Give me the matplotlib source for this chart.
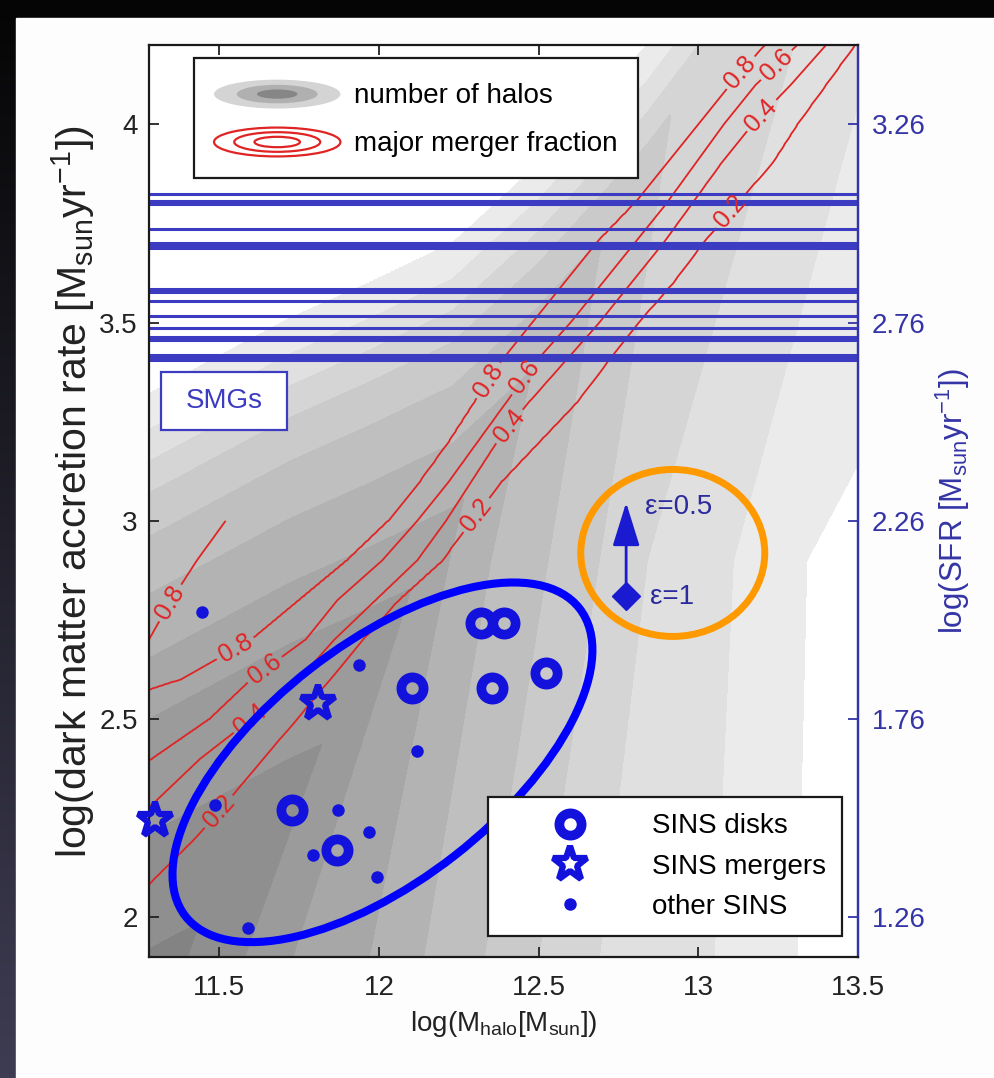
import numpy as np
import matplotlib
matplotlib.use("Agg")
import matplotlib.pyplot as plt
import matplotlib.transforms as mtransforms
from matplotlib.patches import Ellipse, Rectangle, Patch
from matplotlib.lines import Line2D
from matplotlib.legend_handler import HandlerBase
from matplotlib.colors import LinearSegmentedColormap

plt.rcParams["font.family"] = ["Liberation Sans", "DejaVu Sans"]
plt.rcParams["mathtext.fontset"] = "custom"
plt.rcParams["mathtext.rm"] = "Liberation Sans"
plt.rcParams["mathtext.it"] = "Liberation Sans:italic"
plt.rcParams["mathtext.bf"] = "Liberation Sans:bold"

# ---------------- data ----------------
x_ticks = [11.5, 12, 12.5, 13, 13.5]
y_ticks = [2, 2.5, 3, 3.5, 4]
sfr_ticks = [1.26, 1.76, 2.26, 2.76, 3.26]
sfr_offset = 0.74  # log SFR = log Mdot - 0.74

# SINS galaxies (log Mhalo, log dark matter accretion rate)
disk_mhalo = [12.319, 12.391, 12.104, 12.354, 12.522, 11.727, 11.868]
disk_acc = [2.742, 2.742, 2.578, 2.578, 2.616, 2.270, 2.169]
merger_mhalo = [11.808, 11.300]
merger_acc = [2.540, 2.245]
other_mhalo = [11.447, 11.939, 12.120, 11.488, 11.871, 11.970, 11.793, 11.995, 11.590]
other_acc = [2.770, 2.636, 2.419, 2.283, 2.270, 2.215, 2.157, 2.101, 1.972]

# SMGs (horizontal lines, log accretion rate)
smg_acc = [3.824, 3.806, 3.798, 3.737, 3.701, 3.694, 3.688, 3.585, 3.577,
           3.555, 3.516, 3.487, 3.463, 3.455, 3.419, 3.411, 3.405]

# efficiency arrow
eps_mhalo = 12.774
eps1_acc = 2.811
eps05_acc = 3.053

# major merger fraction: x position of each contour level along rows of accretion rate
mf_rows = [1.9, 2.0, 2.1, 2.2, 2.3, 2.4, 2.5, 2.6, 2.7, 2.8, 2.9, 3.0,
           3.1, 3.2, 3.3, 3.4, 3.5, 3.6, 3.7, 3.8, 3.9, 4.0, 4.1, 4.2]
mf_x08 = [10.4, 10.5, 10.6, 10.7, 10.8, 10.9, 11.0, 11.38, 11.60, 11.75, 11.90, 12.03,
          12.13, 12.22, 12.30, 12.38, 12.48, 12.58, 12.68, 12.80, 12.90, 13.00, 13.10, 13.21]
mf_x06 = [10.6, 10.7, 10.8, 10.95, 11.12, 11.29, 11.47, 11.60, 11.77, 11.87, 12.01, 12.12,
          12.22, 12.31, 12.40, 12.49, 12.60, 12.70, 12.80, 12.90, 12.99, 13.08, 13.18, 13.31]
mf_x04 = [10.85, 10.95, 11.05, 11.18, 11.31, 11.44, 11.60, 11.75, 11.86, 11.99, 12.12, 12.21,
          12.29, 12.37, 12.47, 12.58, 12.69, 12.79, 12.89, 12.98, 13.07, 13.17, 13.29, 13.40]
mf_x02 = [11.05, 11.18, 11.30, 11.425, 11.534, 11.637, 11.743, 11.846, 11.949, 12.061, 12.198, 12.288,
          12.385, 12.503, 12.621, 12.715, 12.812, 12.921, 13.014, 13.12, 13.23, 13.31, 13.40, 13.49]
# second (upper-left) 0.8 crossing, only where it is seen
ul_rows = [2.6, 2.7, 2.8, 2.9, 3.0]
mf_x08_ul = [11.18, 11.28, 11.35, 11.43, 11.52]
mf_levels = [0.2, 0.4, 0.6, 0.8]

# number of halos: shading-band boundaries read at acc = 1.9, 2.9 and 4.2
halo_ref_acc = [1.9, 2.9, 4.2]
halo_bound_bottom = [11.40, 11.58, 11.73, 11.97, 12.14, 12.33, 12.50, 12.69, 13.05, 13.31]
halo_bound_mid = [11.85, 12.03, 12.13, 12.22, 12.35, 12.53, 12.69, 12.84, 13.11, 13.34]
halo_bound_top = [12.30, 12.40, 12.50, 12.60, 12.70, 12.80, 12.95, 13.30, 13.55, 14.20]
halo_bound_level = [9.5, 8.5, 7.5, 6.5, 5.5, 4.5, 3.5, 2.5, 1.5, 0.5]
# upper-left edge of the halo distribution and shading level vs depth below it
halo_edge_mhalo = [11.28, 11.72, 11.97, 12.23, 12.50, 12.84, 13.50]
halo_edge_acc = [3.32, 3.51, 3.60, 3.70, 3.90, 4.20, 4.90]
halo_depth = [-0.3, 0.0, 0.09, 0.27, 0.42, 0.59, 0.82, 1.4, 2.5]
halo_depth_level = [-0.8, 0.5, 1.5, 3.75, 5.0, 6.0, 7.5, 9.5, 11.0]
halo_grays = ["#ffffff", "#ebebeb", "#e0e0e0", "#d5d5d5", "#cacaca", "#bfbfbf",
              "#b3b3b3", "#a7a7a7", "#9b9b9b", "#8f8f8f", "#838383"]

# ---------------- style ----------------
XLIM = (11.28, 13.5)
YLIM = (1.9, 4.2)
BLUE = "#1212dc"
SMG_BLUE = "#3c3cc2"
SFR_BLUE = "#3434a6"
RED = "#e02424"
FS = 20

fig = plt.figure(figsize=(9.94, 10.78), dpi=100)

# dark frame with white panel
bg = fig.add_axes([0, 0, 1, 1], zorder=-10)
bg.set_axis_off()
cm_bg = LinearSegmentedColormap.from_list("bg", ["#3e3c52", "#050505"])
bg.imshow(np.linspace(0, 1, 256)[:, None], cmap=cm_bg, aspect="auto",
          extent=[0, 1, 0, 1], origin="lower")
bg.add_patch(Rectangle((16 / 994, 0), 1, 1 - 18 / 1078, color="#fdfdfd",
                       transform=bg.transAxes))
bg.set_xlim(0, 1)
bg.set_ylim(0, 1)

ax = fig.add_axes([149 / 994, (1078 - 957) / 1078, (858 - 149) / 994, (957 - 45) / 1078])
ax.set_xlim(*XLIM)
ax.set_ylim(*YLIM)
ax.set_facecolor("white")

gx = np.linspace(XLIM[0], XLIM[1], 445)
gy = np.linspace(YLIM[0], YLIM[1], 461)

# ---- number of halos (filled shading) ----
bounds = np.array([halo_bound_bottom, halo_bound_mid, halo_bound_top])
halo = np.empty((gy.size, gx.size))
edge = np.interp(gx, halo_edge_mhalo, halo_edge_acc)
for i, yv in enumerate(gy):
    xk = np.array([np.interp(yv, halo_ref_acc, bounds[:, k]) for k in range(bounds.shape[1])])
    xp = np.concatenate([[xk[0] - 0.3], xk, [xk[-1] + 0.3]])
    fp = np.concatenate([[10.8], halo_bound_level, [-0.8]])
    a_lev = np.interp(gx, xp, fp)
    b_lev = np.interp(edge - yv, halo_depth, halo_depth_level)
    halo[i] = np.minimum(a_lev, b_lev)
ax.contourf(gx, gy, halo, levels=[-2, 0.5, 1.5, 2.5, 3.5, 4.5, 5.5, 6.5, 7.5, 8.5, 9.5, 12],
            colors=halo_grays, zorder=0)

# ---- major merger fraction (contour lines) ----
frac_rows = np.empty((gy.size, gx.size))
for i, yv in enumerate(gy):
    x8 = np.interp(yv, mf_rows, mf_x08)
    x6 = np.interp(yv, mf_rows, mf_x06)
    x4 = np.interp(yv, mf_rows, mf_x04)
    x2 = np.interp(yv, mf_rows, mf_x02)
    if ul_rows[0] <= yv <= ul_rows[-1]:
        xu = np.interp(yv, ul_rows, mf_x08_ul)
        xp = [xu - 0.3, xu, 0.5 * (xu + x8), x8, x6, x4, x2, x2 + 0.4]
        fp = [0.7, 0.8, 0.9, 0.8, 0.6, 0.4, 0.2, 0.05]
    else:
        xp = [x8 - 0.4, x8, x6, x4, x2, x2 + 0.4]
        fp = [0.95, 0.8, 0.6, 0.4, 0.2, 0.05]
    frac_rows[i] = np.interp(gx, xp, fp)
    if yv > ul_rows[-1]:
        frac_rows[i][gx < x8 - 0.3] = np.nan
frac = np.ma.masked_invalid(frac_rows)
cs = ax.contour(gx, gy, frac, levels=mf_levels, colors=RED, linewidths=1.3, zorder=1)
label_pos = [(13.139, 4.126), (13.257, 4.139), (13.201, 4.020), (13.092, 3.785),
             (12.335, 3.356), (12.453, 3.364), (12.413, 3.235), (12.304, 3.015),
             (11.369, 2.783), (11.547, 2.684), (11.643, 2.624), (11.600, 2.497), (11.503, 2.263)]
ax.clabel(cs, mf_levels, manual=label_pos, inline=True, inline_spacing=4,
          fontsize=18, fmt="%.1f", colors=RED)

# ---- SMGs ----
for v in smg_acc:
    ax.axhline(v, color=SMG_BLUE, lw=2.2, zorder=2)
ax.add_patch(Rectangle((0.0169, 0.5779), 0.1777, 0.0636, transform=ax.transAxes,
                       facecolor="white", edgecolor=SMG_BLUE, lw=1.6, zorder=3))
ax.text(0.1058, 0.6097, "SMGs", transform=ax.transAxes, ha="center", va="center",
        fontsize=FS, color=SMG_BLUE, zorder=4)

# ---- SINS points ----
ax.plot(disk_mhalo, disk_acc, ls="none", marker="o", ms=16, mew=7, mfc="none",
        mec=BLUE, zorder=5, clip_on=False)
ax.plot(merger_mhalo, merger_acc, ls="none", marker="*", ms=26, mew=4.5, mfc="none",
        mec=BLUE, zorder=5, clip_on=False)
ax.plot(other_mhalo, other_acc, ls="none", marker="o", ms=9, mew=0, mfc=BLUE,
        zorder=5, clip_on=False)

# ---- efficiency arrow ----
ax.annotate("", xy=(eps_mhalo, eps05_acc), xytext=(eps_mhalo, eps1_acc),
            arrowprops=dict(arrowstyle="-|>,head_length=1.35,head_width=0.42",
                            mutation_scale=20, color="#1a1ad0", lw=2), zorder=5)
ax.plot([eps_mhalo], [eps1_acc], ls="none", marker="D", ms=14, mfc="#1a1ad0",
        mec="#1a1ad0", zorder=6)
ax.text(12.833, 3.035, "\u03b5=0.5", fontsize=20, color="#2b2b9e", va="center", zorder=6)
ax.text(12.850, 2.808, "\u03b5=1", fontsize=20, color="#2b2b9e", va="center", zorder=6)

# ---- hand-drawn highlight ellipses ----
t_blue = fig.dpi_scale_trans + mtransforms.ScaledTranslation(12.011, 2.391, ax.transData)
ax.add_artist(Ellipse((0, 0), 5.0, 2.36, angle=38, transform=t_blue, fill=False,
                      edgecolor="#0000ff", lw=5.8, zorder=7, clip_on=False))
t_or = fig.dpi_scale_trans + mtransforms.ScaledTranslation(12.92, 2.919, ax.transData)
ax.add_artist(Ellipse((0, 0), 1.84, 1.67, angle=0, transform=t_or, fill=False,
                      edgecolor="#ff9900", lw=5, zorder=7, clip_on=False))


# ---- legends ----
class NestedEllipses(HandlerBase):
    def __init__(self, filled):
        super().__init__()
        self.filled = filled

    def create_artists(self, legend, orig_handle, xdescent, ydescent, width, height,
                       fontsize, trans):
        cx, cy = width / 2 - xdescent, height / 2 - ydescent
        h = height * 0.9
        arts = []
        if self.filled:
            for s, c in zip([1.0, 0.64, 0.32], ["#d4d4d4", "#b0b0b0", "#868686"]):
                arts.append(Ellipse((cx, cy), width * s, h * s, facecolor=c,
                                    edgecolor="none", transform=trans))
        else:
            for s in [1.0, 0.68, 0.36]:
                arts.append(Ellipse((cx, cy), width * s, h * s, facecolor="none",
                                    edgecolor=RED, lw=1.6, transform=trans))
        return arts


h_halo = Patch()
h_merge = Patch()
leg1 = ax.legend([h_halo, h_merge], ["number of halos", "major merger fraction"],
                 handler_map={h_halo: NestedEllipses(True), h_merge: NestedEllipses(False)},
                 loc="upper left", bbox_to_anchor=(0.0635, 0.9857), borderaxespad=0,
                 fontsize=FS, handlelength=4.55, handleheight=1.4, handletextpad=0.5,
                 labelspacing=0.57, borderpad=0.72, fancybox=False, framealpha=1,
                 edgecolor="#1a1a1a")
leg1.get_frame().set_linewidth(1.6)
leg1.set_zorder(8)
ax.add_artist(leg1)

hd = Line2D([], [], ls="none", marker="o", ms=16, mew=7, mfc="none", mec=BLUE)
hm = Line2D([], [], ls="none", marker="*", ms=26, mew=4.5, mfc="none", mec=BLUE)
ho = Line2D([], [], ls="none", marker="o", ms=9, mew=0, mfc=BLUE)
leg2 = ax.legend([hd, hm, ho], ["SINS disks", "SINS mergers", "other SINS"],
                 loc="lower right", bbox_to_anchor=(0.9774, 0.023), borderaxespad=0,
                 fontsize=FS, handlelength=4.8, handletextpad=0.54, labelspacing=0.52,
                 borderpad=0.57, fancybox=False, framealpha=1, edgecolor="#1a1a1a",
                 numpoints=1)
leg2.get_frame().set_linewidth(1.6)
leg2.set_zorder(8)

# ---- axes cosmetics ----
ax.set_xticks(x_ticks)
ax.set_xticklabels([f"{t:g}" for t in x_ticks])
ax.set_yticks(y_ticks)
ax.set_yticklabels([f"{t:g}" for t in y_ticks])
ax.tick_params(axis="x", direction="in", length=7, width=1.3, top=True, bottom=True,
               labelsize=FS, pad=13, colors="#222222")
ax.tick_params(axis="y", direction="in", length=7, width=1.3, left=True, right=False,
               labelsize=FS, pad=8, colors="#222222")
for s in ["left", "top", "bottom"]:
    ax.spines[s].set_linewidth(1.6)
    ax.spines[s].set_color("#1a1a1a")
ax.spines["right"].set_color(SFR_BLUE)
ax.spines["right"].set_linewidth(1.6)
ax.set_xlabel(r"log(M$_{\mathrm{halo}}$[M$_{\mathrm{sun}}$])", fontsize=FS,
              color="#222222", labelpad=6)
ax.set_ylabel(r"log(dark matter accretion rate [M$_{\mathrm{sun}}$yr$^{-1}$])",
              fontsize=29.5, color="#222222")
ax.yaxis.set_label_coords(-0.073, 0.51)

sec = ax.secondary_yaxis("right", functions=(lambda a: a - sfr_offset,
                                             lambda s: s + sfr_offset))
sec.set_yticks(sfr_ticks)
sec.set_yticklabels([f"{t:.2f}" for t in sfr_ticks])
sec.tick_params(direction="in", length=7, width=1.3, colors=SFR_BLUE, labelsize=FS, pad=10)
sec.spines["right"].set_color(SFR_BLUE)
sec.spines["right"].set_linewidth(1.6)
sec.set_ylabel(r"log(SFR [M$_{\mathrm{sun}}$yr$^{-1}$])", fontsize=22.5, color=SFR_BLUE,
               labelpad=6)

fig.savefig("out.png", dpi=100)
